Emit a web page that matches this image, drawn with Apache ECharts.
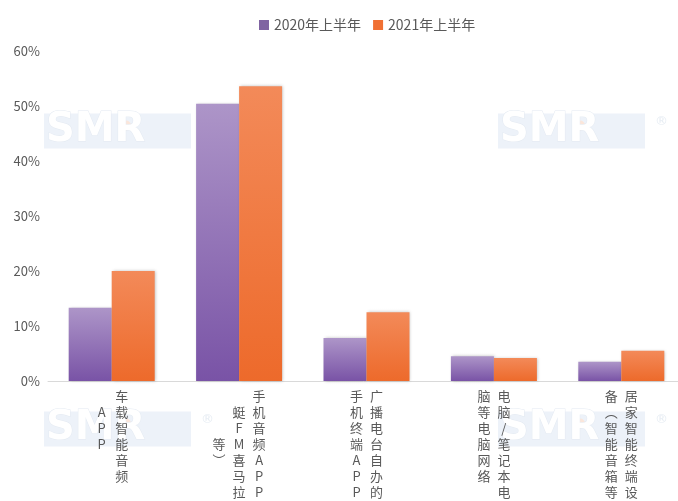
<!DOCTYPE html>
<html>
<head>
<meta charset="utf-8">
<script src="https://cdn.jsdelivr.net/npm/echarts@6/dist/echarts.min.js"></script>
<style>
html, body { margin: 0; padding: 0; background: #fff; }
#main { width: 678px; height: 501px; }
</style>
</head>
<body>
<div id="main"></div>
<script>
// 类别
var categories = ['车载智能音频APP', '手机音频APP(蜻蜓FM喜马拉雅等)', '广播电台自办的手机终端APP', '电脑/笔记本电脑等电脑网络', '居家智能终端设备（智能音箱等）'];
// 竖排标签，每列从右往左
var labelCols = [
	['车载智能音频', 'APP'],
	['手机音频APP(蜻', '蜓FM喜马拉雅', '等)'],
	['广播电台自办的', '手机终端APP'],
	['电脑/笔记本电', '脑等电脑网络'],
	['居家智能终端设', '备（智能音箱等）']
];
var seriesNames = ['2020年上半年', '2021年上半年'];
var data2020 = [13.3, 50.4, 7.8, 4.5, 3.5];
var data2021 = [20.0, 53.6, 12.5, 4.2, 5.5];
var yTicks = [0, 10, 20, 30, 40, 50, 60];

var textColor = '#595959';
var fontFamily = '"Noto Sans CJK SC", "Noto Sans", sans-serif';

//竖排文字的括号
var vertMap = {'(': '︵', '（': '︵', ')': '︶', '）': '︶'};

var verticalLabel = function(value, index) {
	var cols = labelCols[index], maxLen = 0, i, r, c;
	var chars = [];
	for(i = 0; i < cols.length; i++) {
		chars.push(Array.from(cols[i]));
		maxLen = Math.max(maxLen, chars[i].length);
	}
	var rows = [];
	for(r = 0; r < maxLen; r++) {
		var line = '';
		//最左边一列是最后一列
		for(c = cols.length - 1; c >= 0; c--) {
			var offset = Math.floor((maxLen - chars[c].length) / 2);
			var ch = chars[c][r - offset] || ' ';
			ch = vertMap[ch] || ch;
			line += '{c|' + ch + '}';
		}
		rows.push(line);
	}
	return rows.join('\n');
};

var barColor = function(top, bottom) {
	return new echarts.graphic.LinearGradient(0, 0, 0, 1, [
		{offset: 0, color: top},
		{offset: 1, color: bottom}
	]);
};

//水印
var watermark = function(x, y) {
	return {
		type: 'group',
		left: x,
		top: y,
		silent: true,
		z: -10,
		children: [{
			type: 'rect',
			shape: {x: 0, y: 0, width: 147, height: 35},
			style: {fill: '#edf2f9'}
		}, {
			type: 'circle',
			shape: {cx: 82, cy: 12, r: 5},
			style: {fill: '#fbe6da'}
		}, {
			type: 'text',
			x: 2,
			y: -3,
			style: {
				text: 'SMR',
				fill: '#ffffff',
				stroke: '#e4eaf2',
				lineWidth: 1,
				font: 'bold 40px "DejaVu Sans"'
			}
		}, {
			type: 'text',
			x: 157,
			y: 2,
			style: {text: '®', fill: '#e6ecf3', font: '13px "DejaVu Sans"'}
		}]
	};
};

var chart = echarts.init(document.getElementById('main'));
chart.setOption({
	backgroundColor: '#fff',
	animation: false,
	graphic: [watermark(44, 110), watermark(498, 110), watermark(44, 408), watermark(498, 408)],
	legend: {
		left: 254,
		top: 13,
		itemWidth: 10,
		itemHeight: 10,
		itemGap: 12,
		icon: 'rect',
		textStyle: {color: textColor, fontSize: 14, fontFamily: fontFamily},
		data: [
			{name: seriesNames[0], itemStyle: {color: '#8064a2'}},
			{name: seriesNames[1], itemStyle: {color: '#f07033'}}
		]
	},
	grid: {left: 48, right: -7, top: 51, bottom: 120, containLabel: false, outerBoundsMode: 'none'},
	xAxis: {
		type: 'category',
		data: categories,
		axisLine: {lineStyle: {color: '#d9d9d9', width: 1}},
		axisTick: {show: false},
		axisLabel: {
			interval: 0,
			margin: 7,
			formatter: verticalLabel,
			rich: {
				c: {
					width: 20,
					align: 'center',
					lineHeight: 16,
					fontSize: 13,
					color: textColor,
					fontFamily: fontFamily
				}
			}
		}
	},
	yAxis: {
		type: 'value',
		min: yTicks[0],
		max: yTicks[yTicks.length - 1],
		interval: yTicks[1] - yTicks[0],
		splitLine: {show: false},
		axisLine: {show: false},
		axisTick: {show: false},
		axisLabel: {
			margin: 8,
			color: textColor,
			fontSize: 13,
			fontFamily: fontFamily,
			formatter: '{value}%'
		}
	},
	series: [{
		name: seriesNames[0],
		type: 'bar',
		data: data2020,
		barGap: '0%',
		barCategoryGap: '32.5%',
		itemStyle: {
			color: barColor('#ad95c8', '#7953a6'),
			shadowColor: 'rgba(0,0,0,0.25)',
			shadowBlur: 3,
			shadowOffsetX: 1
		}
	}, {
		name: seriesNames[1],
		type: 'bar',
		data: data2021,
		barGap: '0%',
		barCategoryGap: '32.5%',
		itemStyle: {
			color: barColor('#f38a59', '#ed6a2b'),
			shadowColor: 'rgba(0,0,0,0.25)',
			shadowBlur: 3,
			shadowOffsetX: 1
		}
	}]
});
</script>
</body>
</html>
